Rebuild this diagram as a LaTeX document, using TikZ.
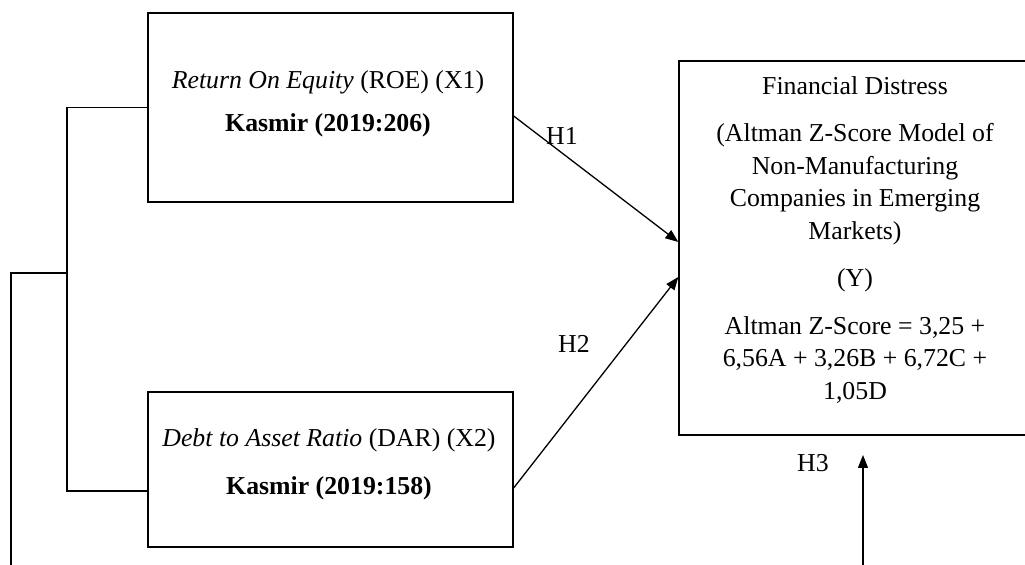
\documentclass[tikz,border=0pt]{standalone}
\usepackage{fontspec}
\setmainfont{Liberation Serif}
\usetikzlibrary{arrows.meta}
\begin{document}
\begin{tikzpicture}[x=0.5pt,y=-0.5pt,
  box/.style={draw, line width=0.65pt, inner sep=0pt},
  txt/.style={font=\fontsize{12.9}{16.25}\selectfont, align=center, inner sep=0pt},
  link/.style={line width=0.65pt},
  arr/.style={line width=0.65pt, -{Triangle[length=6.5pt,width=5pt]}},
  lbl/.style={font=\fontsize{12.9}{15}\selectfont, inner sep=0pt}]
\useasboundingbox (0,0) rectangle (1025,565);
% boxes
\node[box, minimum width=182.5pt, minimum height=94.5pt] (X1) at (330.5,107.5) {};
\node[box, minimum width=182.5pt, minimum height=77.5pt] (X2) at (330.5,469.5) {};
\node[box, minimum width=180.5pt, minimum height=187pt] (Y) at (859.5,248) {};
% texts
\node[txt] (tX1) at (328,103.5) {\textit{Return On Equity} (ROE) (X1)\\[5.25pt]\textbf{Kasmir (2019:206)}};
\node[txt] (tX2) at (329,464) {\textit{Debt to Asset Ratio} (DAR) (X2)\\[7.75pt]\textbf{Kasmir (2019:158)}};
\node[txt] (tY) at (855,240) {Financial Distress\\[7.5pt]
(Altman Z-Score Model of\\Non-Manufacturing\\Companies in Emerging\\Markets)\\[7.5pt]
(Y)\\[7.5pt]
Altman Z-Score = 3,25 +\\6,56A + 3,26B + 6,72C +\\1,05D};
% bracket
\coordinate (j1) at (67,107.5);
\coordinate (j2) at (67,491);
\coordinate (jm) at (67,273);
\coordinate (o1) at (11,273);
\coordinate (o2) at (11,565);
\draw[link] (X1.west) -- (j1) -- (j2) -- (X2.west |- j2);
\draw[link] (jm) -- (o1) -- (o2);
% arrows
\draw[arr] (X1.east |- 0,116) -- (Y.west |- 0,242);
\draw[arr] (X2.east |- 0,488) -- (Y.west |- 0,277);
\coordinate (h3s) at (863,565);
\coordinate (h3e) at (863,455);
\draw[arr] (h3s) -- (h3e);
% labels
\node[lbl] (H1) at (562,136) {H1};
\node[lbl] (H2) at (574,344) {H2};
\node[lbl] (H3) at (813,463) {H3};
\end{tikzpicture}
\end{document}
